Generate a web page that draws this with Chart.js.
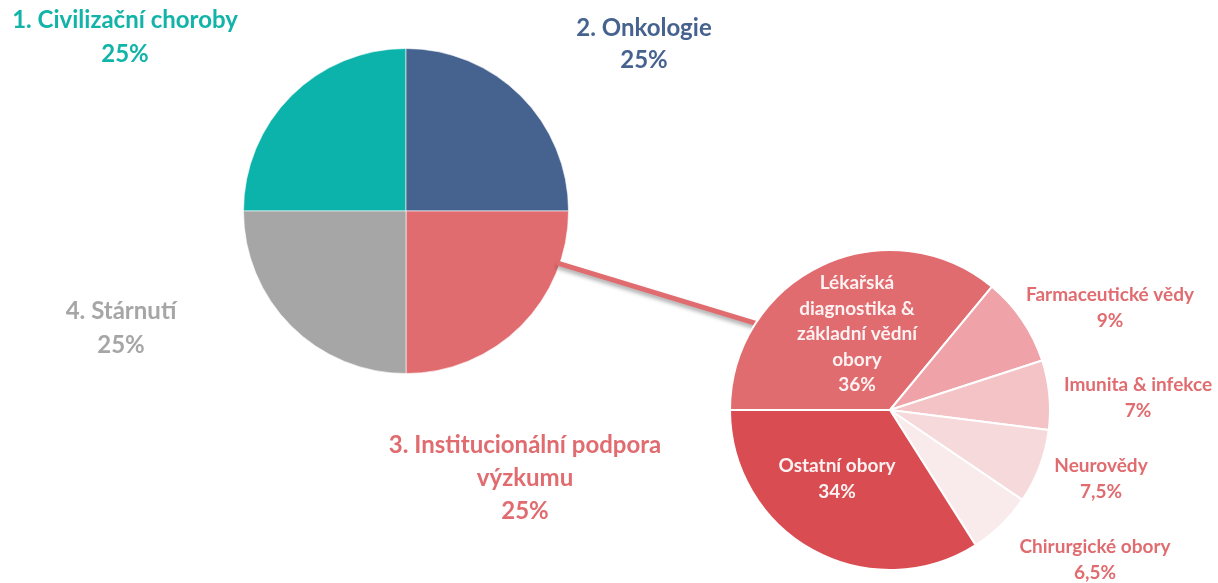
<!DOCTYPE html>
<html>
<head>
<meta charset="utf-8">
<script src="https://cdn.jsdelivr.net/npm/chart.js@4/dist/chart.umd.min.js"></script>
<style>
  html, body { margin: 0; padding: 0; background: #fff; }
  #wrap { position: relative; width: 1218px; height: 583px; }
  #wrap canvas { position: absolute; left: 0; top: 0; }
</style>
</head>
<body>
<div id="wrap">
  <canvas id="chartHlavni" width="1218" height="583"></canvas>
  <canvas id="chartDetail" width="1218" height="583"></canvas>
</div>
<script>
Chart.defaults.font.family = 'Lato';

// hlavni kolac
const oblasti = ['1. Civilizační choroby', '2. Onkologie', '3. Institucionální podpora\nvýzkumu', '4. Stárnutí'];
const podilOblasti = [25, 25, 25, 25];

// rozpad institucionalni podpory
const obory = ['Lékařská\ndiagnostika &\nzákladní vědní\nobory', 'Farmaceutické vědy', 'Imunita & infekce', 'Neurovědy', 'Chirurgické obory', 'Ostatní obory'];
const podilObory = [36, 9, 7, 7.5, 6.5, 34];

const barvyOblasti = ['#0bb3aa', '#46638f', '#e06c70', '#a6a6a6'];
const barvyObory = ['#e06c70', '#efa2a7', '#f3c3c5', '#f6d9db', '#f9ebeb', '#d94d52'];

const fmt = v => String(v).replace('.', ',') + '%';

// popisky - posun od stredu kolace
const popisky = {
    id: 'popisky',
    afterDraw(chart, args, opts) {
        const { ctx } = chart;
        const arc = chart.getDatasetMeta(0).data[0];
        const cx = arc.x, cy = arc.y;
        ctx.save();
        ctx.textAlign = 'center';
        ctx.textBaseline = 'middle';
        ctx.font = 'bold ' + opts.size + 'px Lato';
        chart.data.labels.forEach((lab, i) => {
            const lines = lab.split('\n').concat(fmt(chart.data.datasets[0].data[i]));
            const [dx, dy] = opts.offsets[i];
            ctx.fillStyle = opts.colors[i];
            lines.forEach((t, k) => {
                ctx.fillText(t, cx + dx, cy + dy + k * opts.lineHeight[i]);
            });
        });
        ctx.restore();
    }
};

let hlavni;

// spojovaci cara mezi kolaci
const spojnice = {
    id: 'spojnice',
    beforeDatasetsDraw(chart) {
        if (!hlavni) return;
        const a = hlavni.getDatasetMeta(0).data[2];
        const b = chart.getDatasetMeta(0).data[0];
        const a1 = 19 * Math.PI / 180, a2 = 213 * Math.PI / 180;
        const { ctx } = chart;
        ctx.save();
        ctx.strokeStyle = '#e06c70';
        ctx.lineWidth = 5;
        ctx.shadowColor = 'rgba(0,0,0,0.35)';
        ctx.shadowOffsetY = 3;
        ctx.shadowBlur = 4;
        ctx.beginPath();
        ctx.moveTo(a.x + Math.cos(a1) * (a.outerRadius - 3), a.y + Math.sin(a1) * (a.outerRadius - 3));
        ctx.lineTo(b.x + Math.cos(a2) * (b.outerRadius - 2), b.y + Math.sin(a2) * (b.outerRadius - 2));
        ctx.stroke();
        ctx.restore();
    }
};

hlavni = new Chart(document.getElementById('chartHlavni'), {
    type: 'pie',
    data: {
        labels: oblasti,
        datasets: [{
            data: podilOblasti,
            backgroundColor: barvyOblasti,
            borderColor: 'rgba(255,255,255,0.6)',
            borderWidth: 1
        }]
    },
    options: {
        responsive: false,
        animation: false,
        rotation: -90,
        layout: { padding: { left: 243, top: 48, right: 649, bottom: 209 } },
        plugins: {
            legend: { display: false },
            tooltip: { enabled: false },
            popisky: {
                size: 24,
                lineHeight: [34, 32, 33, 34],
                offsets: [[-281, -191], [238, -183], [119, 234], [-285, 100]],
                colors: ['#12b3a8', '#46638f', '#e06c70', '#a6a6a6']
            }
        }
    },
    plugins: [popisky]
});

new Chart(document.getElementById('chartDetail'), {
    type: 'pie',
    data: {
        labels: obory,
        datasets: [{
            data: podilObory,
            backgroundColor: barvyObory,
            borderColor: '#ffffff',
            borderWidth: 2
        }]
    },
    options: {
        responsive: false,
        animation: false,
        rotation: -90,
        layout: { padding: { left: 729, top: 249, right: 167, bottom: 12 } },
        plugins: {
            legend: { display: false },
            tooltip: { enabled: false },
            popisky: {
                size: 19,
                lineHeight: [25.5, 26, 26, 26, 26, 26],
                offsets: [[-33, -127], [220, -115], [248, -25], [211, 56], [205, 137], [-53, 56]],
                colors: ['#fdf1f1', '#e06c70', '#e06c70', '#e06c70', '#e06c70', '#fdf1f1']
            }
        }
    },
    plugins: [spojnice, popisky]
});
</script>
</body>
</html>
